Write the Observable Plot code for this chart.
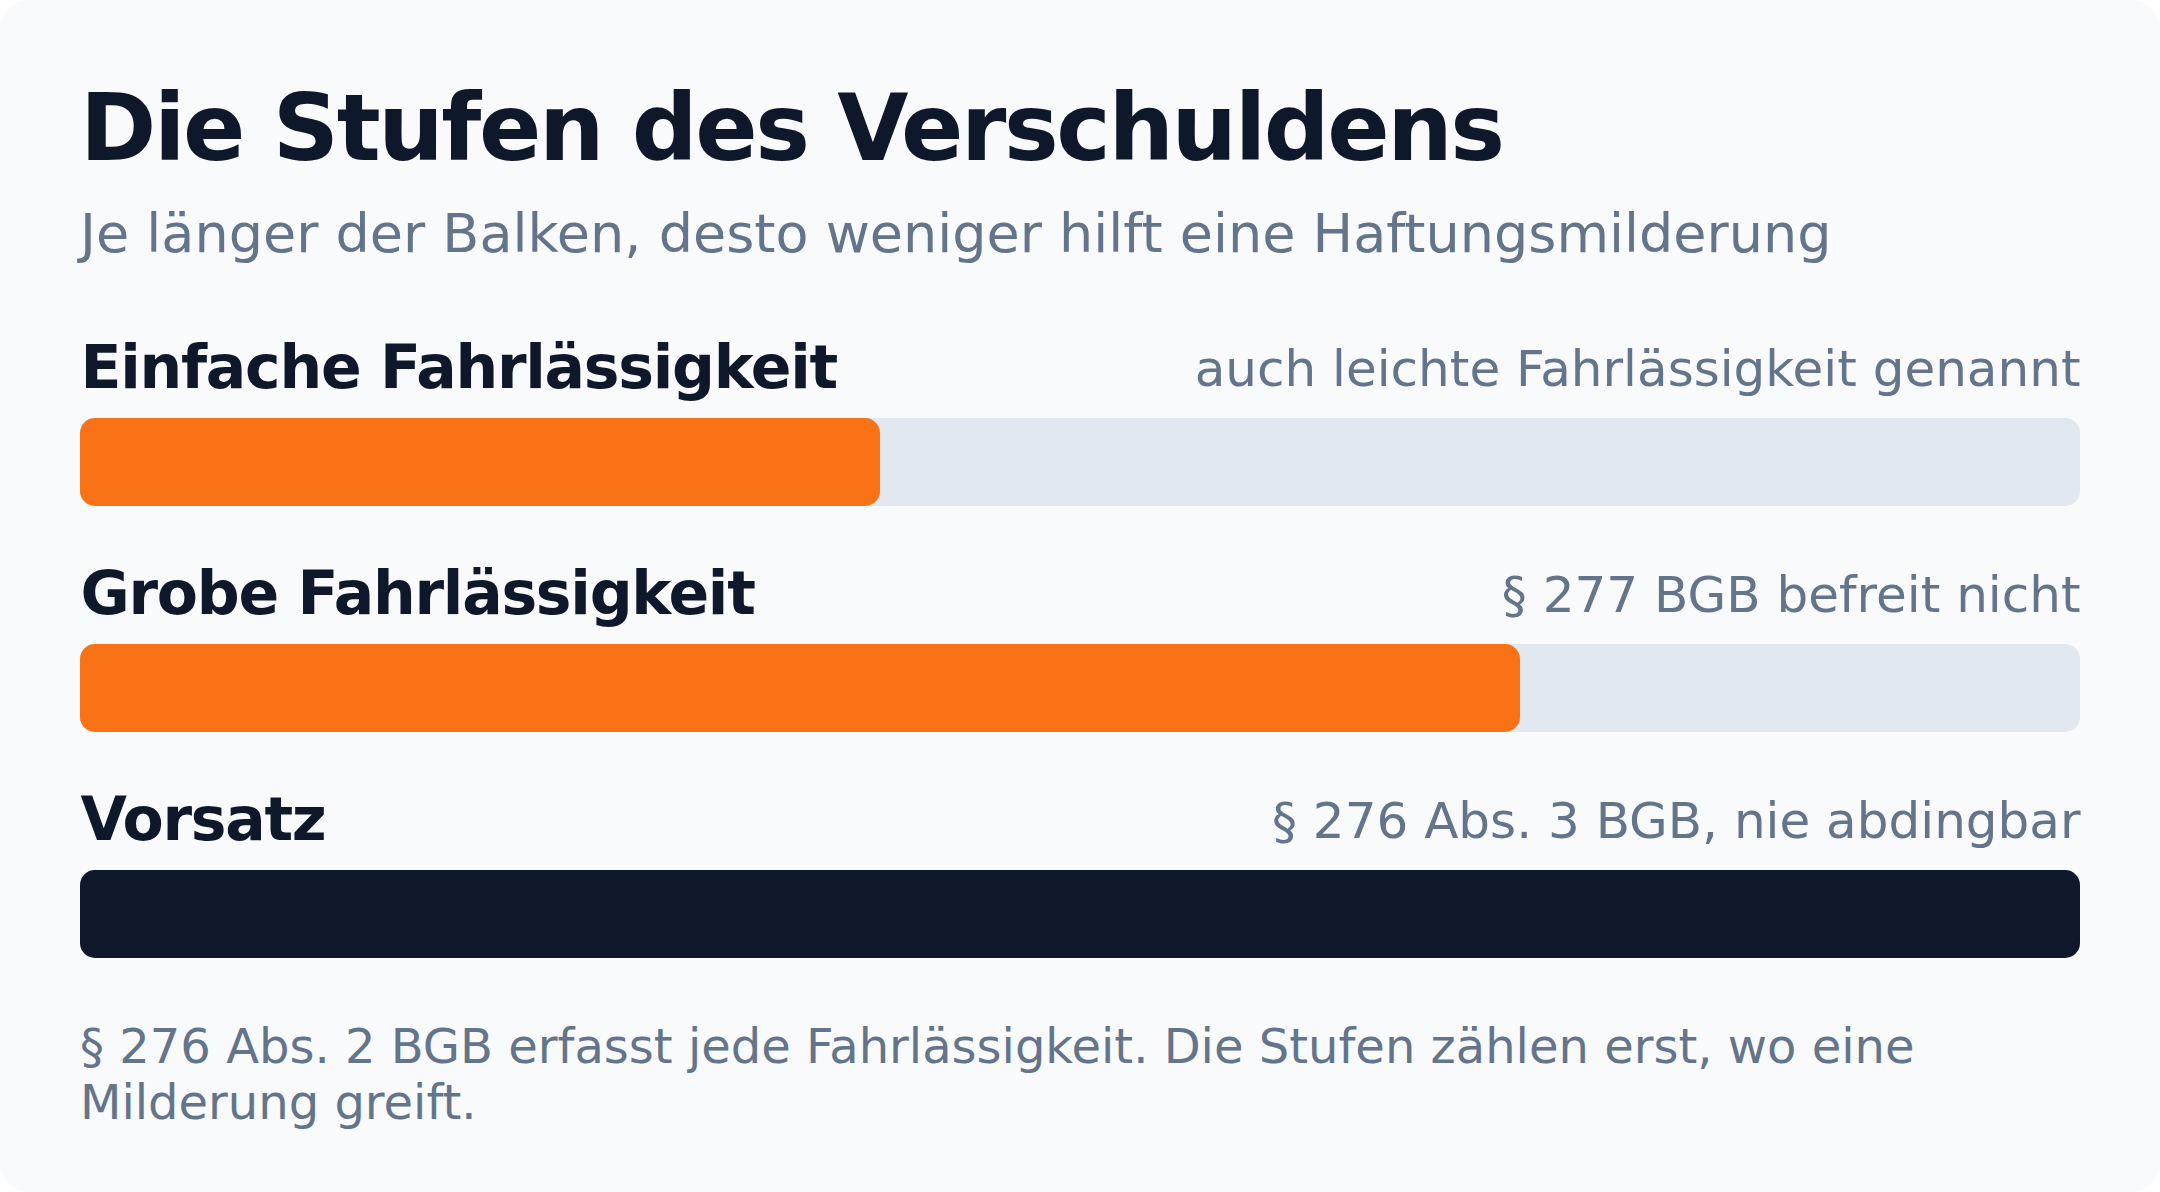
<!DOCTYPE html>
<html>
<head>
<meta charset="utf-8">
<script src="https://cdn.jsdelivr.net/npm/d3@7"></script>
<script src="https://cdn.jsdelivr.net/npm/@observablehq/plot@0.6"></script>
<style>
  html, body { margin: 0; padding: 0; background: #ffffff; }
  #card {
    position: absolute; left: 0; top: 0; width: 2160px; height: 1192px;
    background: #f8fafc; border-radius: 30px; overflow: hidden;
    font-family: "DejaVu Sans", sans-serif;
  }
  #title {
    position: absolute; left: 80px; top: 83px; margin: 0;
    font-size: 92px; font-weight: bold; line-height: 1; color: #0f172a;
    letter-spacing: -0.026em; white-space: nowrap;
  }
  #subtitle {
    position: absolute; left: 80px; top: 207px; margin: 0;
    font-size: 54px; line-height: 1; color: #64748b; white-space: nowrap;
  }
  #chart { position: absolute; left: 0; top: 300px; }
  #chart g[font-weight="bold"] { letter-spacing: -1.25px; }
  #footer {
    position: absolute; left: 80px; top: 1018px; width: 2000px; margin: 0;
    font-size: 48px; line-height: 56px; color: #64748b;
  }
</style>
</head>
<body>
<div id="card">
  <h1 id="title">Die Stufen des Verschuldens</h1>
  <p id="subtitle">Je länger der Balken, desto weniger hilft eine Haftungsmilderung</p>
  <div id="chart"></div>
  <p id="footer">§ 276 Abs. 2 BGB erfasst jede Fahrlässigkeit. Die Stufen zählen erst, wo eine Milderung greift.</p>
</div>
<script>
const categories = ["Einfache Fahrlässigkeit", "Grobe Fahrlässigkeit", "Vorsatz"];
const notes = ["auch leichte Fahrlässigkeit genannt", "§ 277 BGB befreit nicht", "§ 276 Abs. 3 BGB, nie abdingbar"];
const values = [0.40, 0.72, 1.0];
const barColors = ["#f97316", "#f97316", "#0f172a"];

const data = categories.map((c, i) => ({category: c, note: notes[i], value: values[i], color: barColors[i]}));

const chart = Plot.plot({
  width: 2160,
  height: 708,
  marginLeft: 80,
  marginRight: 80,
  marginTop: 30,
  marginBottom: 0,
  x: {domain: [0, 1], axis: null},
  y: {domain: categories, axis: null, padding: 0},
  color: {type: "identity"},
  style: {background: "transparent", fontFamily: "DejaVu Sans", overflow: "visible"},
  marks: [
    Plot.barX(data, {x1: 0, x2: 1, y: "category", fill: "#e2e8f0", insetTop: 88, insetBottom: 50, rx: 15}),
    Plot.barX(data, {x1: 0, x2: "value", y: "category", fill: d => d.color, insetTop: 88, insetBottom: 50, rx: 15}),
    Plot.text(data, {x: 0, y: "category", text: "category", textAnchor: "start", lineAnchor: "bottom", dy: -56, fontSize: 60, fontWeight: "bold", fill: "#0f172a"}),
    Plot.text(data, {x: 1, y: "category", text: "note", textAnchor: "end", lineAnchor: "bottom", dy: -58, fontSize: 50, fill: "#64748b"})
  ]
});
document.getElementById("chart").appendChild(chart);
</script>
</body>
</html>
